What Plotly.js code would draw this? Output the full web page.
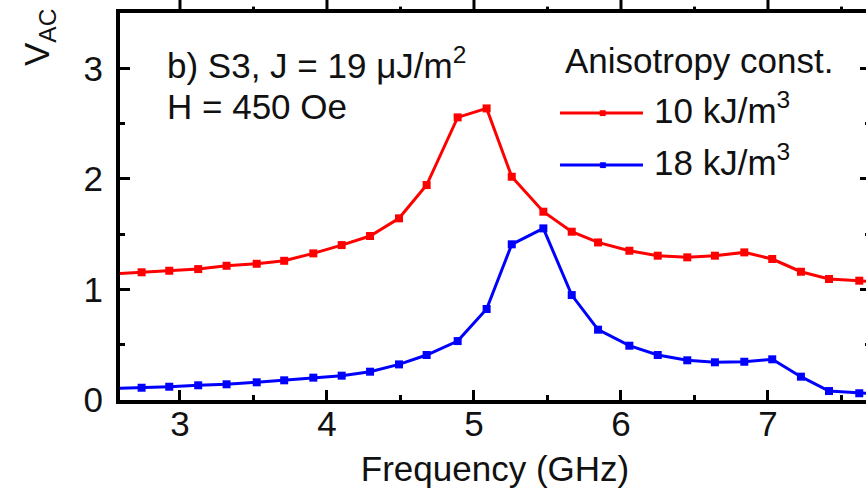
<!DOCTYPE html>
<html>
<head>
<meta charset="utf-8">
<script src="https://cdn.plot.ly/plotly-3.0.1.min.js"></script>
<style>
html, body { margin: 0; padding: 0; overflow: hidden; background: #fff; }
#chart { width: 872px; height: 493px; }
</style>
</head>
<body>
<div id="chart"></div>
<script>
// Frequency (GHz)
const freq = [2.545, 2.739, 2.927, 3.124, 3.317, 3.522, 3.709, 3.907, 4.100, 4.293, 4.490, 4.678, 4.889, 5.086,
              5.257, 5.472, 5.665, 5.844, 6.057, 6.250, 6.451, 6.639, 6.839, 7.029, 7.224, 7.415, 7.621, 7.816];
// V_AC for anisotropy constant 10 kJ/m^3
const k10 = [1.140, 1.155, 1.169, 1.184, 1.214, 1.232, 1.259, 1.326, 1.401, 1.483, 1.643, 1.944, 2.556, 2.637,
             2.019, 1.703, 1.522, 1.425, 1.350, 1.305, 1.290, 1.305, 1.335, 1.275, 1.160, 1.094, 1.079, 1.060];
// V_AC for anisotropy constant 18 kJ/m^3
const k18 = [0.104, 0.111, 0.120, 0.133, 0.142, 0.160, 0.178, 0.202, 0.220, 0.256, 0.322, 0.407, 0.533, 0.823,
             1.408, 1.552, 0.949, 0.636, 0.491, 0.407, 0.359, 0.341, 0.346, 0.368, 0.211, 0.081, 0.061, 0.050];
const seriesNames = ['10 kJ/m<sup>3</sup>', '18 kJ/m<sup>3</sup>'];
const seriesColors = ['#ff0000', '#0000ff'];
// outward ticks on the top frame line
const topMajorTicks = [3, 4, 5, 6, 7];
const topMinorTicks = [3.5, 4.5, 5.5, 6.5, 7.5];
const xRange = [2.592, 7.694];
const yRange = [0, 3.5];

const FONT = 'Liberation Sans, Arial, Helvetica, sans-serif';
const FS = 35;
const TOP = 0.9675; // top of the main plot area (fraction of the plotting height)

const traces = [k10, k18].map((ys, i) => ({
  x: freq, y: ys, type: 'scatter', mode: 'lines+markers',
  name: seriesNames[i],
  line: { color: seriesColors[i], width: 3 },
  marker: { symbol: 'square', size: 8, color: seriesColors[i] },
  cliponaxis: true, showlegend: false
}));
// invisible trace attached to the tick-label axis so it is drawn
traces.push({ x: xRange, y: yRange, xaxis: 'x3', yaxis: 'y', mode: 'markers',
  marker: { opacity: 0 }, showlegend: false, hoverinfo: 'skip' });

// paper-y helper: reference pixel row -> paper fraction (plot area spans rows 0..400)
const py = r => (400 - r) / 400;

const shapes = [];
const annotations = [];
topMajorTicks.forEach(t => shapes.push({ type: 'line', xref: 'x', yref: 'paper', x0: t, x1: t,
  y0: TOP, y1: 1.01, line: { color: '#000', width: 3 } }));
topMinorTicks.forEach(t => shapes.push({ type: 'line', xref: 'x', yref: 'paper', x0: t, x1: t,
  y0: TOP, y1: TOP + 0.016, line: { color: '#000', width: 3 } }));

// manual legend
const legRows = [113, 165];
seriesColors.forEach((c, i) => {
  shapes.push({ type: 'line', xref: 'paper', yref: 'paper', x0: 0.5867, x1: 0.6973, y0: py(legRows[i]), y1: py(legRows[i]),
    line: { color: c, width: 3 } });
  annotations.push({ xref: 'paper', yref: 'paper', x: 0.6427, y: py(legRows[i]), text: '■', showarrow: false,
    font: { family: FONT, size: 12, color: c }, xanchor: 'center', yanchor: 'middle' });
  annotations.push({ xref: 'paper', yref: 'paper', x: 0.7087, y: py(legRows[i] - 5), text: seriesNames[i], showarrow: false,
    font: { family: FONT, size: FS, color: '#111' }, xanchor: 'left', yanchor: 'middle' });
});
annotations.push({ xref: 'paper', yref: 'paper', x: 0.5907, y: py(60), text: 'Anisotropy const.', showarrow: false,
  font: { family: FONT, size: FS, color: '#111' }, xanchor: 'left', yanchor: 'middle' });
annotations.push({ xref: 'paper', yref: 'paper', x: 0.06, y: py(62.5), text: 'b) S3, J = 19 μJ/m<sup>2</sup>', showarrow: false,
  font: { family: FONT, size: FS, color: '#111' }, xanchor: 'left', yanchor: 'middle' });
annotations.push({ xref: 'paper', yref: 'paper', x: 0.06, y: py(107), text: 'H = 450 Oe', showarrow: false,
  font: { family: FONT, size: FS, color: '#111' }, xanchor: 'left', yanchor: 'middle' });
annotations.push({ xref: 'paper', yref: 'paper', x: -0.108, y: py(38), text: 'V<sub>AC</sub>', showarrow: false,
  textangle: -90, font: { family: FONT, size: FS, color: '#111' }, xanchor: 'center', yanchor: 'middle' });

const layout = {
  width: 872, height: 493,
  margin: { l: 120, r: 2, t: 0, b: 93 },
  paper_bgcolor: '#fff', plot_bgcolor: '#fff',
  font: { family: FONT, size: FS, color: '#111' },
  // bottom axis line with inward ticks, mirrored line on top, and the axis title
  xaxis: {
    anchor: 'y', range: xRange, dtick: 1, tick0: 0,
    ticks: 'inside', ticklen: 10, tickwidth: 3, tickcolor: '#000',
    showline: true, linecolor: '#000', linewidth: 4, mirror: true,
    showticklabels: false, showgrid: false, zeroline: false,
    minor: { dtick: 0.5, ticks: 'inside', ticklen: 5, tickwidth: 3, tickcolor: '#000' },
    title: { text: 'Frequency (GHz)', font: { family: FONT, size: FS, color: '#111' }, standoff: 54 }
  },
  // bottom tick labels, placed close to the axis line
  xaxis3: {
    overlaying: 'x', anchor: 'free', position: 0, side: 'bottom', range: xRange, dtick: 1, tick0: 0,
    ticks: '', showline: false, showgrid: false, zeroline: false, showticklabels: true,
    tickfont: { family: FONT, size: FS, color: '#111' }
  },
  yaxis: {
    domain: [0, TOP],
    range: yRange, dtick: 1, tick0: 0, ticks: 'inside', ticklen: 10, tickwidth: 3, tickcolor: '#000',
    mirror: 'ticks', showline: true, linecolor: '#000', linewidth: 4, showgrid: false, zeroline: false,
    ticklabelstandoff: 6, tickfont: { family: FONT, size: FS, color: '#111' },
    minor: { dtick: 0.5, ticks: 'inside', ticklen: 5, tickwidth: 3, tickcolor: '#000' }
  },
  shapes: shapes,
  annotations: annotations,
  showlegend: false
};

Plotly.newPlot('chart', traces, layout, { displayModeBar: false, staticPlot: true });
</script>
</body>
</html>
